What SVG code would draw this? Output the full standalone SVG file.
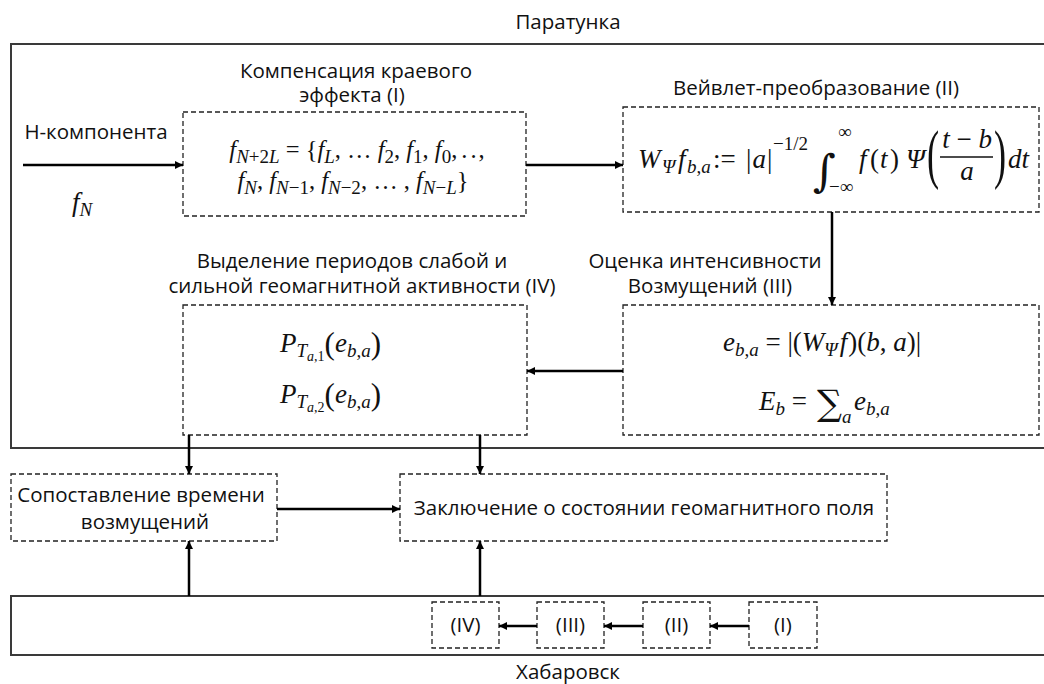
<svg xmlns="http://www.w3.org/2000/svg" width="1044" height="684" viewBox="0 0 1044 684">
<style>
.l{font-family:"Open Sans","Noto Sans",sans-serif;font-size:20.5px;fill:#111;text-anchor:middle}
.m{font-family:"Liberation Serif","DejaVu Serif",serif;font-size:27px;fill:#111}
.m1{font-family:"Liberation Serif","DejaVu Serif",serif;font-size:24.5px;fill:#111}
.i{font-style:italic}
.s{font-size:19px}
.ss{font-size:14px}
.bp{font-size:31px}
.big{font-family:"DejaVu Serif","Liberation Serif",serif;fill:#111}
.frame{fill:none;stroke:#3a3a3a;stroke-width:2}
.box{fill:none;stroke:#222;stroke-width:1.3;stroke-dasharray:5 3}
.c{fill:none;stroke:#000;stroke-width:2.5;marker-end:url(#ah)}
</style>
<defs>
<marker id="ah" viewBox="0 0 10 10" refX="10" refY="5" markerWidth="8" markerHeight="8" markerUnits="userSpaceOnUse" orient="auto">
<path d="M0,0 L10,5 L0,10 z" fill="#000"/>
</marker>
</defs>
<rect width="1044" height="684" fill="#fff"/>

<g id="paratunka">
<rect class="frame" x="11" y="44" width="1050" height="404"/>
<text class="l" x="568" y="29">Паратунка</text>
</g>

<g id="input">
<text class="l" x="96" y="139">Н-компонента</text>
<text class="m i" x="72" y="211">f<tspan class="s" dy="5">N</tspan></text>
</g>

<g id="box1">
<text class="l" x="356" y="78">Компенсация краевого</text>
<text class="l" x="352" y="102">эффекта (I)</text>
<rect class="box" x="183" y="112" width="343" height="104"/>
<text class="m1" x="357" y="158" text-anchor="middle"><tspan class="i">f</tspan><tspan class="s i" dy="5">N</tspan><tspan class="s">+2</tspan><tspan class="s i">L</tspan><tspan dy="-5"> = {</tspan><tspan class="i">f</tspan><tspan class="s i" dy="5">L</tspan><tspan dy="-5">, … </tspan><tspan class="i">f</tspan><tspan class="s" dy="5">2</tspan><tspan dy="-5">, </tspan><tspan class="i">f</tspan><tspan class="s" dy="5">1</tspan><tspan dy="-5">, </tspan><tspan class="i">f</tspan><tspan class="s" dy="5">0</tspan><tspan dy="-5">,</tspan><tspan dx="4">.</tspan><tspan dx="3">.</tspan><tspan dx="2">,</tspan></text>
<text class="m1" x="353" y="189" text-anchor="middle"><tspan class="i">f</tspan><tspan class="s i" dy="5">N</tspan><tspan dy="-5">, </tspan><tspan class="i">f</tspan><tspan class="s i" dy="5">N</tspan><tspan class="s">−1</tspan><tspan dy="-5">, </tspan><tspan class="i">f</tspan><tspan class="s i" dy="5">N</tspan><tspan class="s">−2</tspan><tspan dy="-5">, … , </tspan><tspan class="i">f</tspan><tspan class="s i" dy="5">N</tspan><tspan class="s">−</tspan><tspan class="s i">L</tspan><tspan dy="-5">}</tspan></text>
</g>

<g id="box2">
<text class="l" x="816" y="95">Вейвлет-преобразование (II)</text>
<rect class="box" x="623" y="107" width="416" height="105"/>
<text class="m" y="168"><tspan class="i" x="638">W</tspan><tspan class="s i" x="662" dy="5">Ψ</tspan><tspan class="i" x="678" dy="-5">f</tspan><tspan class="s i" x="687" dy="5">b</tspan><tspan class="s">,</tspan><tspan class="s i">a</tspan><tspan x="713" dy="-5">:=</tspan><tspan x="746">|</tspan><tspan class="i" dx="1">a</tspan><tspan dx="1">|</tspan><tspan class="s" x="773" dy="-18">−1/2</tspan></text>
<text class="big" x="813" y="186" font-size="44">∫</text>
<text class="m s" x="838" y="138">∞</text>
<text class="m s" x="829" y="193">−∞</text>
<text class="m" y="168"><tspan class="i" x="859">f</tspan><tspan x="870">(</tspan><tspan class="i" x="880">t</tspan><tspan x="890">)</tspan><tspan class="i" x="906">Ψ</tspan></text>
<text class="m" x="0" y="0" style="font-size:66px" transform="translate(927 176) scale(0.55 1)">(</text>
<text class="m" x="967" y="148" text-anchor="middle"><tspan class="i">t</tspan> − <tspan class="i">b</tspan></text>
<line x1="940" y1="157" x2="993" y2="157" stroke="#111" stroke-width="1.4"/>
<text class="m i" x="967" y="180" text-anchor="middle">a</text>
<text class="m" x="0" y="0" style="font-size:66px" transform="translate(994 176) scale(0.55 1)">)</text>
<text class="m i" x="1008" y="168">dt</text>
</g>

<g id="box3">
<text class="l" x="705" y="268">Оценка интенсивности</text>
<text class="l" x="710" y="293">Возмущений (III)</text>
<rect class="box" x="623" y="305" width="416" height="130"/>
<text class="m" x="822" y="351" text-anchor="middle"><tspan class="i">e</tspan><tspan class="s i" dy="5">b</tspan><tspan class="s">,</tspan><tspan class="s i">a</tspan><tspan dy="-5"> = |(</tspan><tspan class="i">W</tspan><tspan class="s i" dy="5">Ψ</tspan><tspan class="i" dy="-5" dx="2">f</tspan><tspan dx="1">)(</tspan><tspan class="i">b</tspan><tspan>, </tspan><tspan class="i">a</tspan><tspan>)|</tspan></text>
<text class="m" x="759" y="410"><tspan class="i">E</tspan><tspan class="s i" dy="5">b</tspan><tspan dy="-5"> = </tspan></text>
<text class="big" x="817" y="415" font-size="35">∑</text>
<text class="m s i" x="842" y="423">a</text>
<text class="m" x="854" y="410"><tspan class="i">e</tspan><tspan class="s i" dy="5">b</tspan><tspan class="s">,</tspan><tspan class="s i">a</tspan></text>
</g>

<g id="box4">
<text class="l" x="352" y="268">Выделение периодов слабой и</text>
<text class="l" x="362" y="293">сильной геомагнитной активности (IV)</text>
<rect class="box" x="183" y="305" width="344" height="130"/>
<text class="m" x="280" y="352"><tspan class="i">P</tspan><tspan class="s i" dy="5">T</tspan><tspan class="ss i" dy="4">a</tspan><tspan class="ss">,1</tspan><tspan class="bp" dy="-7">(</tspan><tspan class="i" dy="-2">e</tspan><tspan class="s i" dy="5">b</tspan><tspan class="s">,</tspan><tspan class="s i">a</tspan><tspan class="bp" dy="-3">)</tspan></text>
<text class="m" x="280" y="403"><tspan class="i">P</tspan><tspan class="s i" dy="5">T</tspan><tspan class="ss i" dy="4">a</tspan><tspan class="ss">,2</tspan><tspan class="bp" dy="-7">(</tspan><tspan class="i" dy="-2">e</tspan><tspan class="s i" dy="5">b</tspan><tspan class="s">,</tspan><tspan class="s i">a</tspan><tspan class="bp" dy="-3">)</tspan></text>
</g>

<g id="compare">
<rect class="box" x="11" y="474" width="266" height="67"/>
<text class="l" x="141" y="502">Сопоставление времени</text>
<text class="l" x="145" y="529">возмущений</text>
</g>

<g id="conclusion">
<rect class="box" x="400" y="474" width="487" height="67"/>
<text class="l" x="644" y="515">Заключение о состоянии геомагнитного поля</text>
</g>

<g id="khabarovsk">
<rect class="frame" x="11" y="596" width="1050" height="59"/>
<text class="l" x="568" y="679">Хабаровск</text>
</g>
<g id="k4"><rect class="box" x="432" y="602" width="67" height="46"/><text class="l" x="465.5" y="632">(IV)</text></g>
<g id="k3"><rect class="box" x="537" y="602" width="67" height="46"/><text class="l" x="570.5" y="632">(III)</text></g>
<g id="k2"><rect class="box" x="643" y="602" width="67" height="46"/><text class="l" x="676.5" y="632">(II)</text></g>
<g id="k1"><rect class="box" x="749" y="602" width="68" height="46"/><text class="l" x="783" y="632">(I)</text></g>

<g id="connectors">
<line class="c" x1="23" y1="165" x2="183" y2="165"/>
<line class="c" x1="526" y1="165" x2="623" y2="165"/>
<line class="c" x1="832" y1="212" x2="832" y2="305"/>
<line class="c" x1="623" y1="371" x2="527" y2="371"/>
<line class="c" x1="189" y1="435" x2="189" y2="474"/>
<line class="c" x1="480" y1="435" x2="480" y2="474"/>
<line class="c" x1="277" y1="509" x2="400" y2="509"/>
<line class="c" x1="189" y1="596" x2="189" y2="541"/>
<line class="c" x1="480" y1="596" x2="480" y2="541"/>
<line class="c" x1="749" y1="626" x2="710" y2="626"/>
<line class="c" x1="643" y1="626" x2="604" y2="626"/>
<line class="c" x1="537" y1="626" x2="499" y2="626"/>
</g>
</svg>
